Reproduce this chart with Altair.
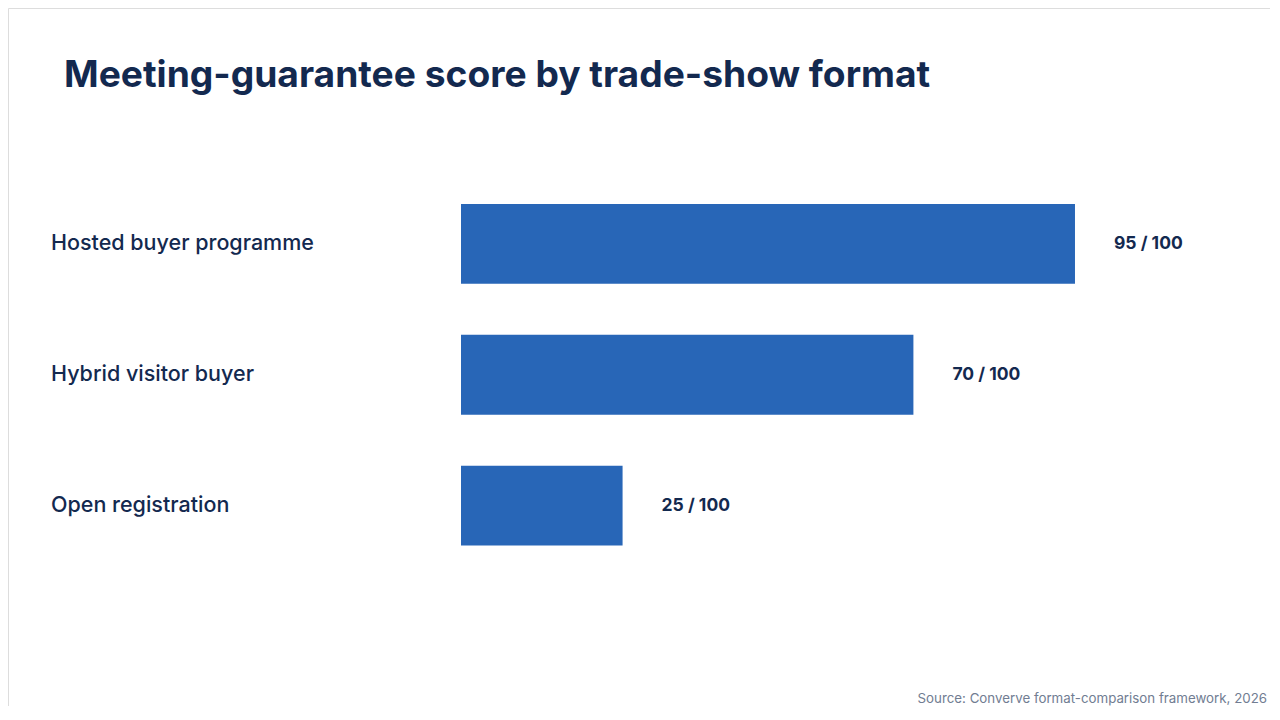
import altair as alt
import pandas as pd

categories = ["Hosted buyer programme", "Hybrid visitor buyer", "Open registration"]
scores = [95, 70, 25]
score_labels = ["95 / 100", "70 / 100", "25 / 100"]

title_text = "Meeting-guarantee score by trade-show format"
source_text = "Source: Converve format-comparison framework, 2026"

NAVY = "#13294F"
BLUE = "#2866B7"
GREY = "#717D92"
FONT = "Inter"

df = pd.DataFrame({"format": categories, "score": scores, "label": score_labels})

# pixel ranges chosen so bars land where the reference has them
x_scale = alt.Scale(domain=[0, 100], range=[453, 1099.3])
y_scale = alt.Scale(domain=categories, range=[196, 537.5], paddingInner=0.39, paddingOuter=0)

base = alt.Chart(df)

bars = base.mark_bar(color=BLUE).encode(
    x=alt.X("score:Q", scale=x_scale, axis=None),
    x2=alt.datum(0),
    y=alt.Y("format:N", scale=y_scale, axis=None, sort=categories),
)

values = base.mark_text(
    align="left", baseline="middle", dx=39, font=FONT, fontSize=17.5,
    fontWeight="bold", color=NAVY,
).encode(
    x=alt.X("score:Q", scale=x_scale, axis=None),
    y=alt.Y("format:N", scale=y_scale, axis=None, sort=categories),
    text="label:N",
)

names = base.mark_text(
    align="left", baseline="middle", font=FONT, fontSize=21.5, fontWeight=500, color=NAVY,
).encode(
    x=alt.value(43),
    y=alt.Y("format:N", scale=y_scale, axis=None, sort=categories),
    text="format:N",
)

title = alt.Chart(pd.DataFrame({"t": [title_text]})).mark_text(
    align="left", baseline="alphabetic", font=FONT, fontSize=37.2,
    fontWeight="bold", color=NAVY,
).encode(x=alt.value(56), y=alt.value(79), text="t:N")

source = alt.Chart(pd.DataFrame({"t": [source_text]})).mark_text(
    align="right", baseline="alphabetic", font=FONT, fontSize=13.3, color=GREY,
).encode(x=alt.value(1259), y=alt.value(695), text="t:N")

chart = (
    alt.layer(bars, values, names, title, source)
    .properties(width=1262, height=698, autosize=alt.AutoSizeParams(type="none"), padding=0)
    .configure_view(stroke=None, strokeOpacity=0, fill=None)
    .configure(background="transparent")
)

chart.save("out.html", embed_options={"renderer": "svg", "actions": False})
